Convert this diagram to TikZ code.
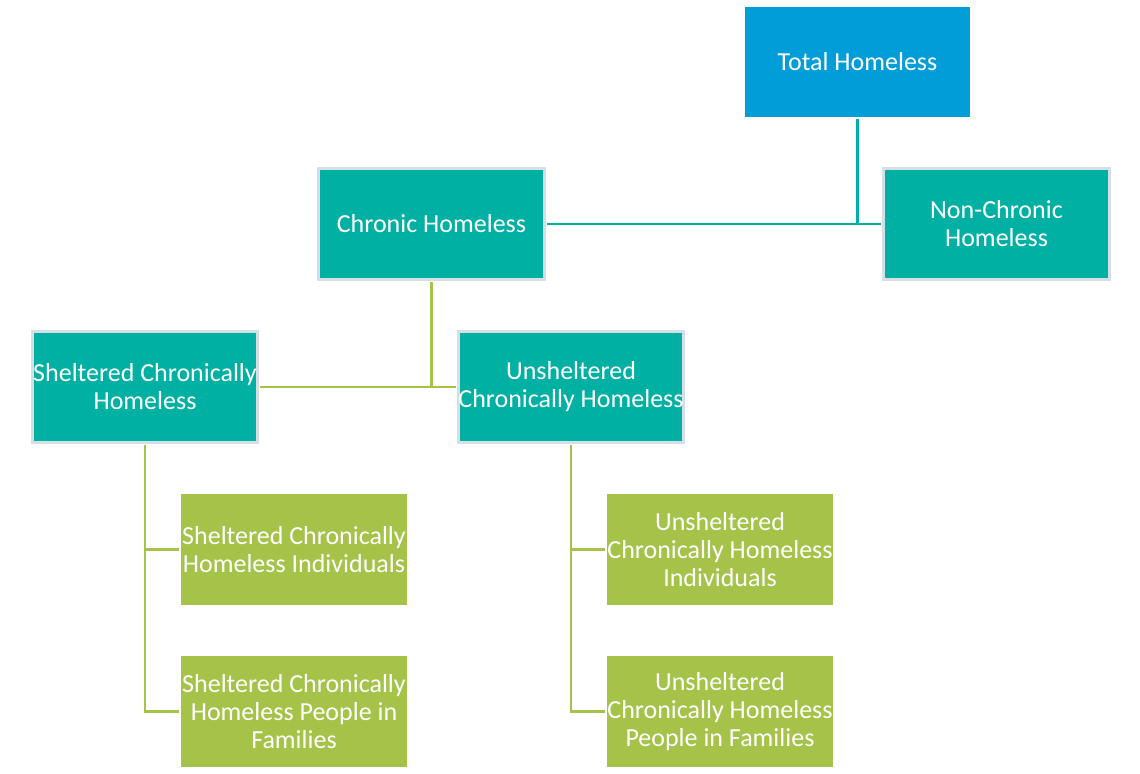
\documentclass[tikz,border=0pt]{standalone}
\usepackage{fontspec}
\setmainfont{Carlito}
\usetikzlibrary{positioning}

\definecolor{topblue}{RGB}{0,157,217}
\definecolor{tealbox}{RGB}{0,176,163}
\definecolor{greenbox}{RGB}{165,194,73}
\definecolor{rimgray}{RGB}{214,222,230}

\begin{document}
\begin{tikzpicture}[
x=0.02cm, y=-0.02cm,
basebox/.style={rectangle, text=white, align=center, inner sep=0pt, outer sep=0.05cm,
    font=\fontsize{14.8}{15.9}\selectfont},
topnode/.style={basebox, fill=topblue, minimum width=4.5cm, minimum height=2.2cm},
midnode/.style={basebox, fill=tealbox, draw=rimgray, line width=0.06cm, minimum width=4.52cm, minimum height=2.22cm},
leafnode/.style={basebox, fill=greenbox, minimum width=4.52cm, minimum height=2.22cm},
tealline/.style={draw=tealbox, line width=0.05cm},
greenline/.style={draw=greenbox, line width=0.05cm}
]
    \useasboundingbox (0,0) rectangle (1140,774);

    %Nodes
    \node[topnode]  (total)      at (857.5,62)   {Total Homeless};
    \node[midnode]  (chronic)    at (431.5,224)  {Chronic Homeless};
    \node[midnode]  (nonchronic) at (996.5,224)  {Non-Chronic\\Homeless};
    \node[midnode]  (shelt)      at (145,387)    {Sheltered Chronically\\Homeless};
    \node[midnode]  (unshelt)    at (571,387)    {Unsheltered\\Chronically Homeless};
    \node[leafnode] (shindiv)    at (294,549.5)  {Sheltered Chronically\\Homeless Individuals};
    \node[leafnode] (shfam)      [below=0.92cm of shindiv] {Sheltered Chronically\\Homeless People in\\Families};
    \node[leafnode] (unindiv)    at (720,549.5)  {Unsheltered\\Chronically Homeless\\Individuals};
    \node[leafnode] (unfam)      [below=0.92cm of unindiv] {Unsheltered\\Chronically Homeless\\People in Families};

    %Lines
    \draw[tealline] (total.south) |- (chronic.east);
    \draw[tealline] (total.south) |- (nonchronic.west);
    \draw[greenline] (chronic.south) |- (shelt.east);
    \draw[greenline] (chronic.south) |- (unshelt.west);
    \draw[greenline] (shelt.south) |- (shindiv.west);
    \draw[greenline] (shelt.south) |- (shfam.west);
    \draw[greenline] (unshelt.south) |- (unindiv.west);
    \draw[greenline] (unshelt.south) |- (unfam.west);
\end{tikzpicture}
\end{document}
